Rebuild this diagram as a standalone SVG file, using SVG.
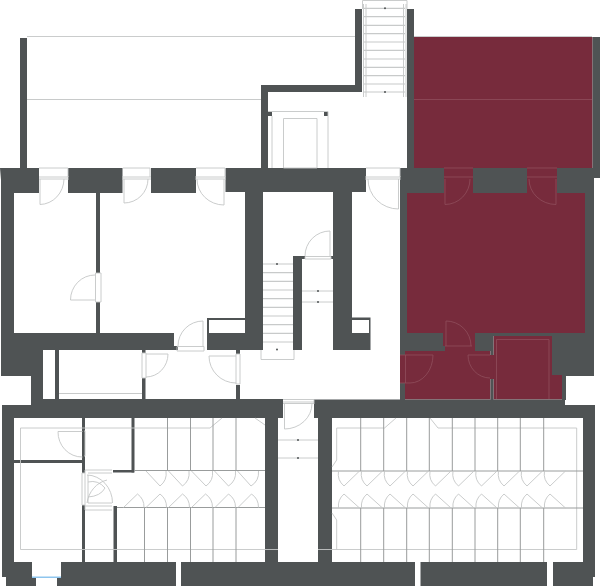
<svg xmlns="http://www.w3.org/2000/svg" width="600" height="586" viewBox="0 0 600 586">
<style>
.w{fill:#4f5354;stroke:none}
.m{fill:#772b3c;stroke:none}
.f{fill:#fff;stroke:none}
.l{fill:none;stroke:#c4c6c6;stroke-width:.9}
.t{fill:none;stroke:#c8caca;stroke-width:1.2}
.g{fill:none;stroke:#999c9c;stroke-width:1}
.d{fill:none;stroke:#8f4e5c;stroke-width:.8}
.p{fill:#4f5354;stroke:none}
</style>
<rect width="600" height="586" fill="#fff"/>
<g id="maroon-rooms">
<rect class="m" x="414" y="37" width="178.500" height="131"/>
<rect class="m" x="407" y="193" width="178" height="140"/>
<rect class="m" x="444" y="168" width="29" height="26"/>
<rect class="m" x="527" y="168" width="30" height="26"/>
<rect class="m" x="443" y="320" width="32" height="31"/>
<rect class="m" x="405" y="351" width="85.500" height="48.500"/>
<rect class="m" x="400" y="355" width="6" height="28"/>
<rect class="m" x="490" y="355" width="4" height="24"/>
<rect class="m" x="493.500" y="336" width="58.500" height="63.500"/>
<rect class="m" x="552" y="375" width="10" height="24.500"/>
</g>
<g id="walls">
<rect class="w" x="20" y="38" width="7" height="130"/>
<rect class="w" x="261" y="85" width="7" height="85"/>
<rect class="w" x="261" y="85" width="101" height="7"/>
<rect class="w" x="355" y="9" width="7" height="83"/>
<rect class="w" x="407" y="9" width="7" height="160"/>
<rect class="w" x="592.500" y="37" width="7.500" height="141"/>
<rect class="w" x="268" y="112" width="4" height="4"/>
<rect class="w" x="324" y="112" width="4" height="4"/>
<path class="w" d="M0 168H39V193H14V333H174V346H178V350H59V399H55V350H43V399H31V376H1V180Z"/>
<rect class="w" x="68" y="168" width="54.500" height="25"/>
<rect class="w" x="151" y="168" width="45" height="25"/>
<rect class="w" x="225.500" y="168" width="140.500" height="24"/>
<rect class="w" x="245" y="168" width="18" height="182"/>
<rect class="w" x="333" y="168" width="19" height="182"/>
<path class="w" d="M207 318H245V333H263V350H207V346H207Z"/>
<path class="w" d="M333 333H369V320H352V317.500H370.500V350H333Z"/>
<rect class="f" x="209" y="320" width="36" height="13"/>
<rect class="w" x="293" y="256" width="9" height="94"/>
<rect class="w" x="302" y="256" width="3" height="3"/>
<rect class="w" x="331" y="256" width="2" height="3"/>
<rect class="w" x="96" y="193" width="4" height="80"/>
<rect class="w" x="96" y="302" width="4" height="31"/>
<rect class="w" x="142" y="350" width="3.500" height="3"/>
<rect class="w" x="142" y="378" width="3.500" height="21"/>
<rect class="w" x="236" y="350" width="4" height="4"/>
<rect class="w" x="236" y="385" width="4" height="14"/>
<path class="w" d="M400 168H444V193H407V333H443V346H445V351H405V355H400Z"/>
<rect class="w" x="473" y="168" width="54" height="25"/>
<path class="w" d="M557 168H600V178H594V376H566V400H562V375H552V336H493.500V351H475V333H585V193H557Z"/>
<rect class="w" x="400" y="383" width="5" height="17"/>
<rect class="w" x="490.500" y="351" width="3" height="4"/>
<rect class="w" x="490.500" y="379" width="3" height="21"/>
<path class="w" d="M2 405H31V399H283V420H314V399.500H565V405H595V577H593V586H6V577H2Z"/>
<rect class="f" x="14" y="418" width="251" height="144"/>
<rect class="f" x="332" y="418" width="251" height="144"/>
<rect class="f" x="278" y="418" width="40" height="144"/>
<rect class="f" x="283" y="399" width="31" height="20"/>
<rect class="w" x="82" y="418" width="3" height="55"/>
<rect class="w" x="82" y="505" width="3" height="57"/>
<rect class="w" x="14" y="460" width="69" height="3"/>
<rect class="w" x="131.500" y="418" width="3" height="54.500"/>
<rect class="w" x="113" y="470" width="21" height="2.500"/>
<rect class="w" x="113.500" y="506" width="3.500" height="56"/>
<rect class="f" x="32" y="561" width="29" height="16"/>
<rect class="f" x="36" y="577" width="21" height="9"/>
<rect class="f" x="176" y="561" width="5" height="25"/>
<rect class="f" x="415" y="561" width="5.500" height="25"/>
<rect class="f" x="547" y="561" width="6" height="25"/>
<rect x="32" y="576.500" width="29" height="1.500" fill="#8ec5ee"/>
</g>
<g id="upper-stair">
<path class="l" d="M362.500 9V.5H407V9M363.500 4V97M366 4V97M403.500 4V97M406 4V97"/>
<path class="t" d="M364 8.300H405M364 16.700H405M364 25.300H405M364 33.700H405M364 42H405M364 50.300H405M364 59H405M364 67.300H405M364 75.700H405M364 84H405M364 92H405"/>
<circle class="p" cx="385" cy="8.300" r="1"/><circle class="p" cx="385" cy="92" r="1"/>
</g>
<g id="terrace-lines">
<path class="l" d="M27 36.500H355M414 36.500H592"/>
<path class="t" d="M27 99.500H261"/>
<path d="M414 99.500H592" fill="none" stroke="#8a4655" stroke-width="1"/>
<path class="l" d="M268 111.500H328V168M272 116V168M283.500 168V118.500H317V168H283.500"/>
</g>
<g id="lower-stair">
<path class="t" d="M263 264H293M263 272.700H293M263 281.300H293M263 290H293M263 298.700H293M263 307.300H293M263 316H293M263 324.700H293M263 333.300H293M263 342H293"/>
<path class="l" d="M261 350V359.500H294V350M302 291H333M302 302H333"/>
<path class="t" d="M59 393.500H142"/>
<circle class="p" cx="277" cy="264" r="1"/><circle class="p" cx="277" cy="349.500" r="1"/>
<circle class="p" cx="318" cy="291" r="1"/><circle class="p" cx="318" cy="302" r="1"/>
</g>
<g id="doors">
<path class="l" d="M39 168H68V177M39 177H69M39 179H69M40 179V204.500A24.500 26 0 0 0 64 179"/>
<path class="l" d="M123 168H150V177M122 177H151M122 179H151M124 179V203A24 24 0 0 0 148 179"/>
<path class="l" d="M196 168H225V177M195 177H226M195 179H226M224 179V205A27 26 0 0 1 197 179"/>
<path class="l" d="M366 168H400V177M365 177H401M365 179H401M398.500 179V209A30.500 30 0 0 1 368 179"/>
<path class="l" d="M95.500 273H101V302H95.500Z"/>
<path class="l" d="M95 275A24.500 25 0 0 0 70.500 300H95"/>
<path class="l" d="M177 346.500H204V351H177ZM203 346V321A25 25 0 0 0 178 346"/>
<path class="l" d="M142 353H146V378H142ZM146 354H168A22 23 0 0 1 146 377"/>
<path class="l" d="M236 354H240V384H236ZM236 383A27 27 0 0 1 209 356H236"/>
<path class="l" d="M305 256.500H331V259H305ZM330 256V231A25 25 0 0 0 305 256"/>
<path class="d" d="M444 177H473M445 179V204.500A25 25.500 0 0 0 470 179M444 168H473"/>
<path class="d" d="M527 177H557M556 179V204.500A27 25.500 0 0 1 529 179M527 168H557"/>
<path class="d" d="M446 346V321A25 25 0 0 1 471 346M445 346H472"/>
<path class="d" d="M405.500 355V383M400 355H433A23 28 0 0 1 410 383H400"/>
<path class="d" d="M490 355H468A22 23 0 0 0 490 378"/>
<path class="d" d="M496.500 399V339.500H549V399"/>
<path class="l" d="M283 399.500H314V404M283 402H314M283 403.500H314M284.500 403.500V429A27.500 25.500 0 0 0 312 403.500"/>
<path class="l" d="M278 440H318M278 458H318"/>
<circle class="p" cx="298" cy="440" r="1"/><circle class="p" cx="298" cy="458" r="1"/>
<path class="l" d="M84 431H85V456H84M82.500 431.500H58A24 25 0 0 0 82.500 457"/>
<path class="l" d="M85 470H112M88 473H112M88 475V503M85 470V510H112M85 473H82V505H85M85 506H112M88 503H112"/>
<path class="l" d="M87 475A26 28 0 0 1 112.500 503M87 503A26 28 0 0 1 107 480M88 482A18 20 0 0 1 105 488A20 14 0 0 1 88 497"/>
</g>
<g id="storage-left">
<path class="l" d="M20.500 549.500V428H210L222 418M255 418L265 425M278 549.500H20.500"/>
<path class="g" d="M167.500 418V470M190.500 418V470M213 418V470M236 418V470M134 470.500H265"/>
<path class="g" d="M117 507.500H265M144.500 507.500V562M167.500 507.500V562M190.500 507.500V562M213 507.500V562M236 507.500V562"/>
<path class="l" d="M146 471L160 486A16 16 0 0 0 166 471M168.500 471L182.500 486A16 16 0 0 0 189 471M191.500 471L206 486A16 16 0 0 0 212.500 471M214.500 471L228.500 486A16 16 0 0 0 235.500 471M237.500 471L251 486A16 16 0 0 0 258.500 471"/>
<path class="l" d="M123.500 507.500L137.500 494A16 16 0 0 1 144 507.500M146 507.500L160 494A16 16 0 0 1 166.500 507.500M168.500 507.500L182.500 494A16 16 0 0 1 189.500 507.500M191.500 507.500L205.500 494A16 16 0 0 1 212.500 507.500M215 507.500L228.500 494A16 16 0 0 1 235.500 507.500M238 507.500L251.500 494A16 16 0 0 1 258.500 507.500"/>
</g>
<g id="storage-right">
<path class="l" d="M318 549.500H576.700V428H438L430 418M384.500 428H336.700V460L332 467M336.700 520V549.500M336.700 520L332 513M384.500 428L396 418"/>
<path class="g" d="M332 471H583M332 508H583M360.700 418V471M383.700 418V471M406.700 418V471M429.300 418V471M452.300 418V471M475 418V471M497.700 418V471M520.300 418V471M543.700 418V471M360.700 508V562M383.700 508V562M406.700 508V562M429.300 508V562M452.300 508V562M475 508V562M497.700 508V562M520.300 508V562M543.700 508V562"/>
<path class="l" d="M359.500 471L344 486A16 16 0 0 1 338.500 471M382.500 471L367 486A16 16 0 0 1 361.500 471M405.500 471L390 486A16 16 0 0 1 384.500 471M428.500 471L413 486A16 16 0 0 1 407.500 471M451 471L435.500 486A16 16 0 0 1 430 471M474 471L458.500 486A16 16 0 0 1 453 471M497 471L481.500 486A16 16 0 0 1 476 471M519.500 471L504 486A16 16 0 0 1 498.500 471M542.500 471L527 486A16 16 0 0 1 521.500 471M565.500 471L550 486A16 16 0 0 1 544.500 471"/>
<path class="l" d="M359.500 508L344 494A16 16 0 0 0 338.500 508M382.500 508L367 494A16 16 0 0 0 361.500 508M405.500 508L390 494A16 16 0 0 0 384.500 508M428.500 508L413 494A16 16 0 0 0 407.500 508M451 508L435.500 494A16 16 0 0 0 430 508M474 508L458.500 494A16 16 0 0 0 453 508M497 508L481.500 494A16 16 0 0 0 476 508M519.500 508L504 494A16 16 0 0 0 498.500 508M542.500 508L527 494A16 16 0 0 0 521.500 508M565.500 508L550 494A16 16 0 0 0 544.500 508"/>
</g>
</svg>
